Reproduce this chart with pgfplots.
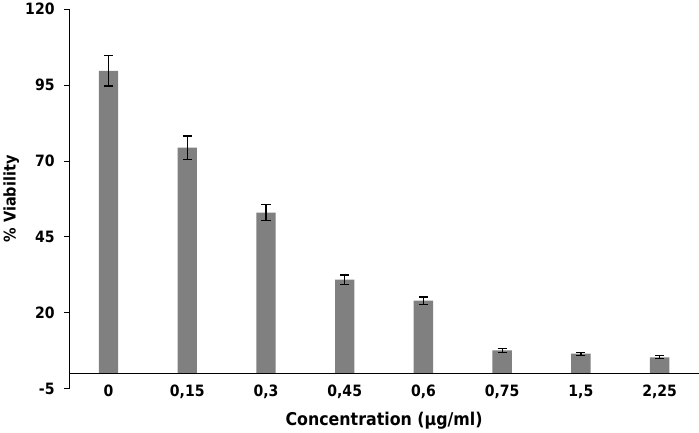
\documentclass[border=0pt]{standalone}
\usepackage{fontspec}
\setmainfont{DejaVu Sans Condensed}
\usepackage{pgfplots}
\pgfplotsset{compat=1.18}
\begin{document}
\begin{tikzpicture}
\begin{axis}[
  scale only axis, width=626pt, height=377pt,
  ymin=-5, ymax=120, ytick={-5,20,45,70,95,120},
  xmin=-0.5, xmax=7.5,
  xtick={0,...,7},
  xticklabels={0,{0,15},{0,3},{0,45},{0,6},{0,75},{1,5},{2,25}},
  axis y line*=left, axis x line*=bottom,
  x axis line style={draw=none},
  xtick style={draw=none},
  tick align=outside,
  ytick style={black, line width=0.8pt},
  major tick length=5pt,
  y axis line style={black, line width=0.8pt},
  /pgf/number format/assume math mode=true,
  tick label style={font=\bfseries\fontsize{15.5}{15.5}\selectfont},
  x tick label style={yshift=12pt},
  y tick label style={xshift=-6pt},
  xlabel={Concentration (μg/ml)},
  ylabel={\% Viability},
  xlabel style={font=\bfseries\fontsize{17.5}{17.5}\selectfont, yshift=-6pt},
  ylabel style={font=\bfseries\fontsize{16}{16}\selectfont, at={(axis description cs:-0.092,0.5)}, anchor=center},
]
\addplot[ybar, bar width=19.3pt, fill={rgb,255:red,128;green,128;blue,128}, draw=none,
  error bars/.cd, y dir=both, y explicit, error mark=|,
  error bar style={black, line width=1.2pt},
  error mark options={black, line width=1.2pt, mark size=4.5pt}]
  table[x=x, y=y, y error=e] {
x y e
0 99.7 5.0
1 74.4 3.8
2 53.0 2.6
3 30.9 1.5
4 24.0 1.2
5 7.6 0.6
6 6.5 0.5
7 5.3 0.5
};
\draw[black, line width=0.8pt] (axis cs:-0.5,0) -- (axis cs:7.5,0);
\end{axis}
\end{tikzpicture}
\end{document}
